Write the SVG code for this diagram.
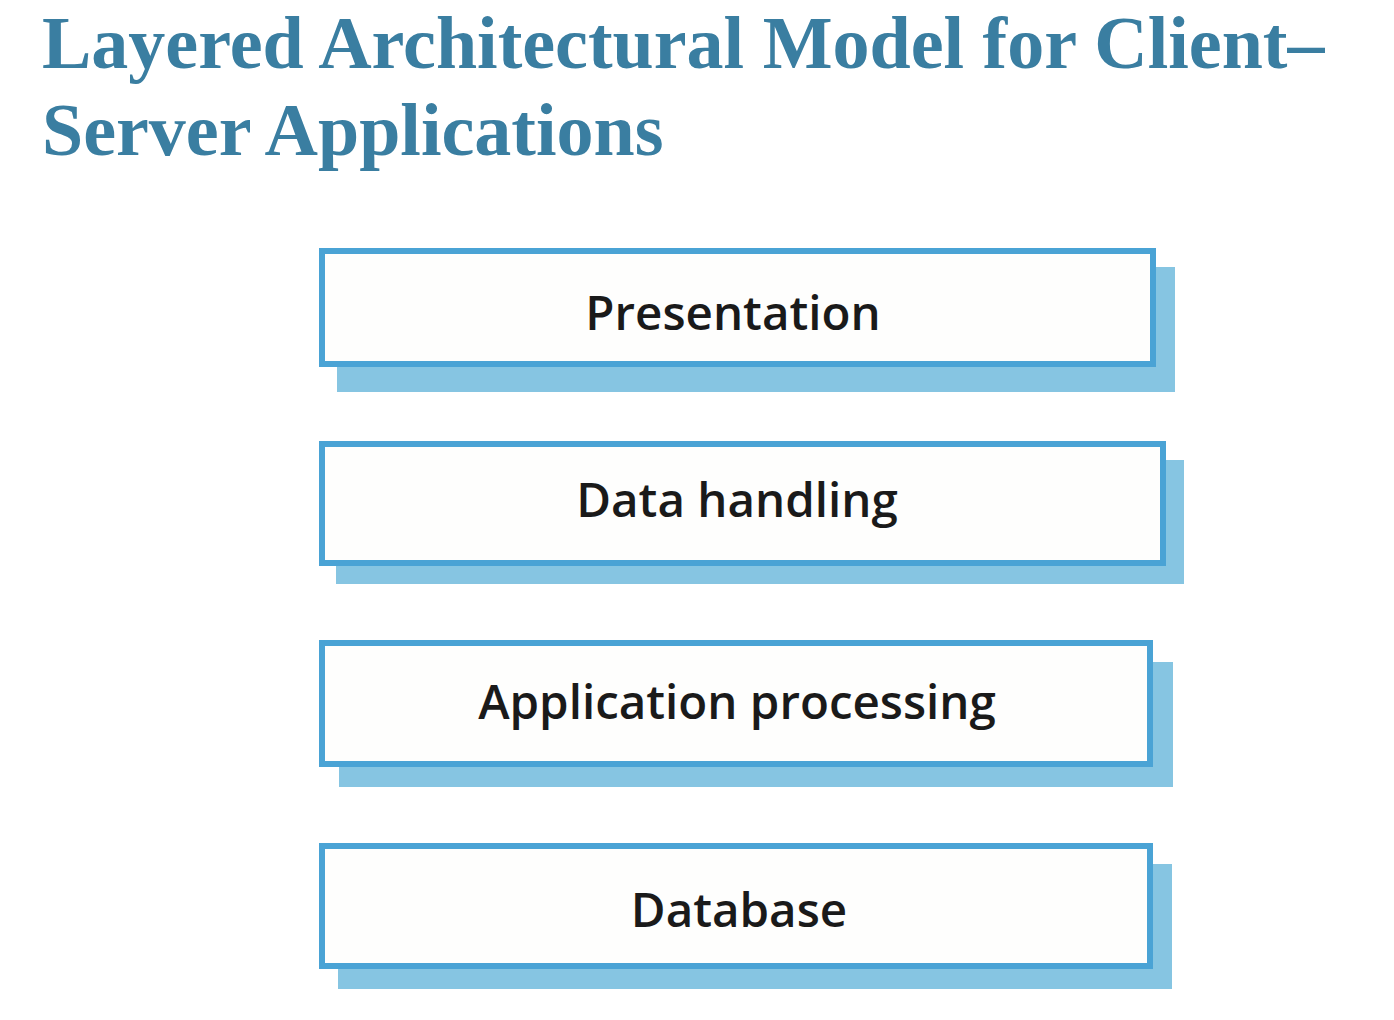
<svg xmlns="http://www.w3.org/2000/svg" width="1394" height="1020" viewBox="0 0 1394 1020">
<style>
.title{font-family:"Liberation Serif","Times New Roman",serif;font-weight:bold;font-size:74px;fill:#3a7ea1}
.shadow{fill:#86c5e2}
.box{fill:#fefefd;stroke:#4aa3d5;stroke-width:6}
.lbl{font-family:"Open Sans","Noto Sans",sans-serif;font-weight:600;font-size:47.5px;fill:#1a1a1a;text-anchor:middle}
</style>
<rect width="1394" height="1020" fill="#ffffff"/>
<g id="title">
<text class="title" x="42" y="68">Layered Architectural Model for Client–</text>
<text class="title" x="42" y="155">Server Applications</text>
</g>
<g id="connectors"></g>
<g id="presentation">
<rect class="shadow" x="337" y="267" width="838" height="125"/>
<rect class="box" x="322" y="251" width="831" height="113"/>
<text class="lbl" x="733" y="330">Presentation</text>
</g>
<g id="data-handling">
<rect class="shadow" x="336" y="460" width="848" height="124"/>
<rect class="box" x="322" y="444" width="841" height="119"/>
<text class="lbl" x="737" y="517">Data handling</text>
</g>
<g id="application-processing">
<rect class="shadow" x="339" y="662" width="834" height="125"/>
<rect class="box" x="322" y="643" width="828" height="121"/>
<text class="lbl" x="737" y="719">Application processing</text>
</g>
<g id="database">
<rect class="shadow" x="338" y="864" width="834" height="125"/>
<rect class="box" x="322" y="846" width="828" height="120"/>
<text class="lbl" x="739" y="927">Database</text>
</g>
</svg>
